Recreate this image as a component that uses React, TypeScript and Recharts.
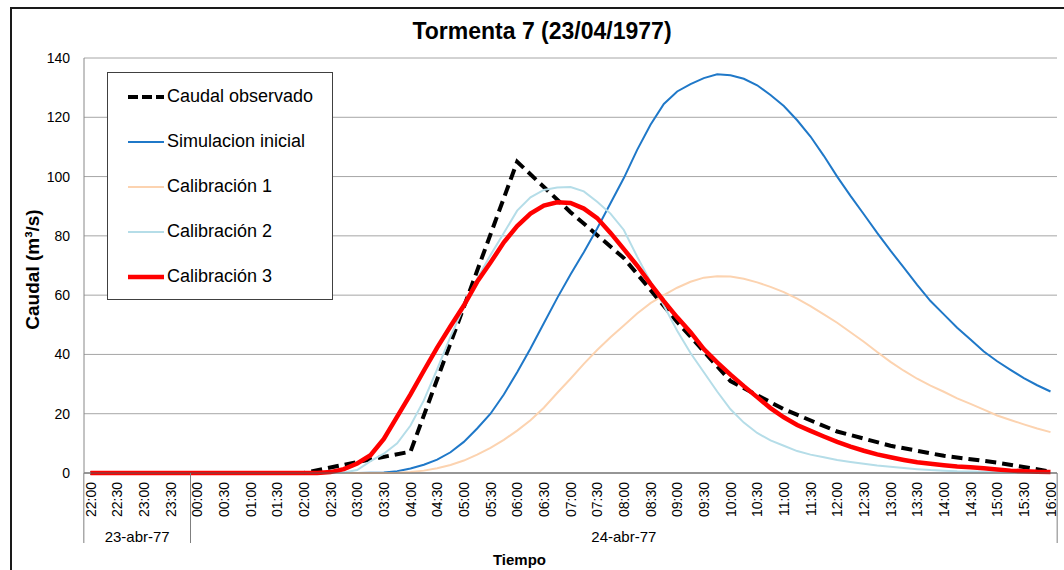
import React from 'react'
import { LineChart, Line, XAxis, YAxis, CartesianGrid, Legend, Label } from 'recharts'

// categories: 15 min steps, 23-abr-77 22:00 .. 24-abr-77 16:00
const times = [
  '22:00', '22:15', '22:30', '22:45', '23:00', '23:15', '23:30', '23:45',
  '00:00', '00:15', '00:30', '00:45', '01:00', '01:15', '01:30', '01:45',
  '02:00', '02:15', '02:30', '02:45', '03:00', '03:15', '03:30', '03:45',
  '04:00', '04:15', '04:30', '04:45', '05:00', '05:15', '05:30', '05:45',
  '06:00', '06:15', '06:30', '06:45', '07:00', '07:15', '07:30', '07:45',
  '08:00', '08:15', '08:30', '08:45', '09:00', '09:15', '09:30', '09:45',
  '10:00', '10:15', '10:30', '10:45', '11:00', '11:15', '11:30', '11:45',
  '12:00', '12:15', '12:30', '12:45', '13:00', '13:15', '13:30', '13:45',
  '14:00', '14:15', '14:30', '14:45', '15:00', '15:15', '15:30', '15:45',
  '16:00',
]

const dateGroups = [
  { label: '23-abr-77', first: '22:00', last: '23:45' },
  { label: '24-abr-77', first: '00:00', last: '16:00' },
]

// observed flow is hourly
const observado = [
  0, null, null, null, 0, null, null, null,
  0, null, null, null, 0, null, null, null,
  0, null, null, null, 3.7, null, null, null,
  7.2, null, null, null, 56, null, null, null,
  105, null, null, null, 88, null, null, null,
  72.5, null, null, null, 51, null, null, null,
  31, null, null, null, 21.5, null, null, null,
  14, null, null, null, 9.2, null, null, null,
  5.8, null, null, null, 3.5, null, null, null,
  0.5,
]

const simInicial = [
  0, 0, 0, 0, 0, 0, 0, 0,
  0, 0, 0, 0, 0, 0, 0, 0,
  0, 0, 0, 0, 0, 0.1, 0.2, 0.6,
  1.5, 2.8, 4.5, 7, 10.5, 15, 20, 26.5,
  34, 42, 50.5, 59, 67, 74.5, 82.5, 91,
  99.5, 109, 117.5, 124.5, 128.7, 131.2, 133.2, 134.5,
  134.2, 133, 130.8, 127.5, 123.8, 119, 113.5, 107,
  100, 93.5, 87.3, 81, 75, 69.3, 63.5, 58,
  53.5, 49, 45, 41, 37.7, 34.8, 32, 29.6,
  27.5,
]

const calibracion1 = [
  0, 0, 0, 0, 0, 0, 0, 0,
  0, 0, 0, 0, 0, 0, 0, 0,
  0, 0, 0, 0, 0, 0, 0, 0.1,
  0.3, 0.8, 1.6, 2.7, 4.2, 6.2, 8.5, 11.2,
  14.3, 17.8, 22, 27, 31.8, 36.8, 41.5, 45.8,
  49.8, 53.8, 57.3, 60, 62.5, 64.5, 65.9, 66.4,
  66.3, 65.5, 64.3, 62.8, 61, 58.8, 56.3, 53.5,
  50.7, 47.5, 44.3, 40.8, 37.5, 34.5, 31.8, 29.5,
  27.4, 25.2, 23.3, 21.4, 19.4, 17.9, 16.4, 15,
  13.8,
]

const calibracion2 = [
  0, 0, 0, 0, 0, 0, 0, 0,
  0, 0, 0, 0, 0, 0, 0, 0,
  0, 0, 0, 0.2, 1, 4, 6.5, 10,
  16, 24.5, 35, 46, 56, 65.5, 73.5, 81,
  88.5, 93, 95.5, 96.3, 96.5, 95, 91.5, 87.5,
  82, 73, 64.5, 56.5, 48, 40.5, 34, 27.5,
  21.5, 17, 13.5, 11, 9.2, 7.4, 6.2, 5.3,
  4.4, 3.7, 3.1, 2.5, 2.1, 1.7, 1.3, 1,
  0.8, 0.6, 0.5, 0.4, 0.3, 0.2, 0.2, 0.1,
  0.1,
]

const calibracion3 = [
  0, 0, 0, 0, 0, 0, 0, 0,
  0, 0, 0, 0, 0, 0, 0, 0,
  0, 0, 0.3, 1.3, 3.2, 6, 11.5, 19,
  26.5, 34.5, 42.3, 49.5, 56.5, 64.5, 71, 77.8,
  83.3, 87.5, 90.2, 91.3, 91.1, 89.2, 86, 81,
  75.5, 70, 63.8, 58, 52.5, 47.5, 41.8, 37.3,
  33.2, 29.3, 25.6, 21.9, 18.8, 16.2, 14.2, 12.3,
  10.5, 8.9, 7.5, 6.3, 5.3, 4.4, 3.6, 3.1,
  2.6, 2.2, 1.9, 1.6, 1.2, 0.8, 0.6, 0.4,
  0.3,
]

const yTicks = [0, 20, 40, 60, 80, 100, 120, 140]

const data = times.map((time, i) => ({
  time,
  observado: observado[i],
  simInicial: simInicial[i],
  calibracion1: calibracion1[i],
  calibracion2: calibracion2[i],
  calibracion3: calibracion3[i],
}))

const series = [
  { key: 'observado', name: 'Caudal observado', color: '#000000', width: 4, dash: '11 6' },
  { key: 'simInicial', name: 'Simulacion inicial', color: '#1f78c8', width: 2, dash: undefined },
  { key: 'calibracion1', name: 'Calibración 1', color: '#fcd3b0', width: 2, dash: undefined },
  { key: 'calibracion2', name: 'Calibración 2', color: '#b5dde8', width: 2, dash: undefined },
  { key: 'calibracion3', name: 'Calibración 3', color: '#ff0000', width: 4.5, dash: undefined },
]

const FONT = '"Liberation Sans", Arial, sans-serif'
const W = 1064
const H = 570
const PLOT_LEFT = 84
const PLOT_RIGHT = 1057
const PAD = 6.5
const STEP = (PLOT_RIGHT - PLOT_LEFT - 2 * PAD) / (times.length - 1)
const TICK_GAP = 9

const TimeTick = (props: any) => {
  const { x, y, payload } = props
  const value = payload.value as string
  const axisY = y - TICK_GAP
  const group = dateGroups.find((g) => g.first === value)
  const isEnd = value === dateGroups[dateGroups.length - 1].last
  return (
    <g>
      <text
        x={x}
        y={y}
        transform={`rotate(-90, ${x}, ${y})`}
        textAnchor="end"
        dominantBaseline="central"
        fontSize={14}
        fontFamily={FONT}
        fill="#000"
      >
        {value}
      </text>
      {group && (
        <>
          <line x1={x - STEP / 2} x2={x - STEP / 2} y1={axisY} y2={axisY + 70} stroke="#7f7f7f" />
          <text
            x={x + ((times.indexOf(group.last) - times.indexOf(group.first)) * STEP) / 2}
            y={axisY + 69}
            textAnchor="middle"
            fontSize={15}
            fontFamily={FONT}
            fill="#000"
          >
            {group.label}
          </text>
        </>
      )}
      {isEnd && <line x1={x + STEP / 2} x2={x + STEP / 2} y1={axisY} y2={axisY + 70} stroke="#7f7f7f" />}
    </g>
  )
}

const LegendBox = () => (
  <div
    style={{
      width: 224,
      height: 225,
      border: '1px solid #404040',
      background: '#fff',
      fontFamily: FONT,
      paddingTop: 1,
      boxSizing: 'content-box',
    }}
  >
    {series.map((s) => (
      <div key={s.key} style={{ display: 'flex', alignItems: 'center', height: 45, paddingLeft: 20 }}>
        <svg width={36} height={10} style={{ display: 'block' }}>
          <line x1={0} x2={36} y1={5} y2={5} stroke={s.color} strokeWidth={s.width} strokeDasharray={s.key === 'observado' ? '10 4' : undefined} />
        </svg>
        <span style={{ marginLeft: 3, fontSize: 18, color: '#000', whiteSpace: 'nowrap' }}>{s.name}</span>
      </div>
    ))}
  </div>
)

export default function App() {
  return (
    <div style={{ position: 'fixed', left: 0, top: 0, width: W, height: H, overflow: 'hidden', background: '#fff' }}>
      <div
        style={{
          position: 'absolute',
          left: 10,
          top: 7,
          width: 1100,
          height: 640,
          border: '2px solid #1a1a1a',
        }}
      />
      <div
        style={{
          position: 'absolute',
          left: 0,
          top: 18,
          width: 1084,
          textAlign: 'center',
          fontFamily: FONT,
          fontWeight: 'bold',
          fontSize: 23,
          lineHeight: '26px',
          color: '#000',
        }}
      >
        Tormenta 7 (23/04/1977)
      </div>
      <div style={{ position: 'absolute', left: 0, top: 0 }}>
        <LineChart width={W} height={H} data={data} margin={{ top: 58, right: W - PLOT_RIGHT, bottom: 0, left: 0 }}>
          <CartesianGrid horizontal vertical={false} stroke="#a6a6a6" />
          <XAxis
            dataKey="time"
            interval={1}
            height={H - 58 - 415}
            padding={{ left: PAD, right: PAD }}
            tickLine={false}
            tickSize={0}
            tickMargin={TICK_GAP}
            axisLine={{ stroke: '#595959' }}
            tick={(p: any) => <TimeTick {...p} />}
          >
            <Label
              value="Tiempo"
              position="insideBottom"
              offset={5}
              dx={-51}
              style={{ fontFamily: FONT, fontWeight: 'bold', fontSize: 15, fill: '#000' }}
            />
          </XAxis>
          <YAxis
            width={PLOT_LEFT}
            domain={[0, 140]}
            ticks={yTicks}
            tickLine={false}
            tickSize={0}
            tickMargin={14}
            axisLine={{ stroke: '#888888' }}
            tick={{ fontSize: 14, fill: '#000', fontFamily: FONT }}
          >
            <Label
              content={({ viewBox }: any) => (
                <text
                  transform={`translate(${viewBox.x + 32}, ${viewBox.y + viewBox.height / 2 + 4}) rotate(-90)`}
                  textAnchor="middle"
                  dominantBaseline="central"
                  fontFamily={FONT}
                  fontWeight="bold"
                  fontSize={19}
                  fill="#000"
                >
                  Caudal (m³/s)
                </text>
              )}
            />
          </YAxis>
          <YAxis
            yAxisId="right"
            orientation="right"
            width={0}
            domain={[0, 140]}
            tick={false}
            tickLine={false}
            axisLine={{ stroke: '#888888' }}
          />
          <Legend
            layout="horizontal"
            verticalAlign="middle"
            align="center"
            content={() => <LegendBox />}
            wrapperStyle={{ left: 107, top: 72, width: 'auto', height: 'auto' }}
          />
          {series.map((s) => (
            <Line
              key={s.key}
              type="linear"
              dataKey={s.key}
              name={s.name}
              stroke={s.color}
              strokeWidth={s.width}
              strokeDasharray={s.dash}
              dot={false}
              activeDot={false}
              connectNulls
              isAnimationActive={false}
            />
          ))}
        </LineChart>
      </div>
    </div>
  )
}
